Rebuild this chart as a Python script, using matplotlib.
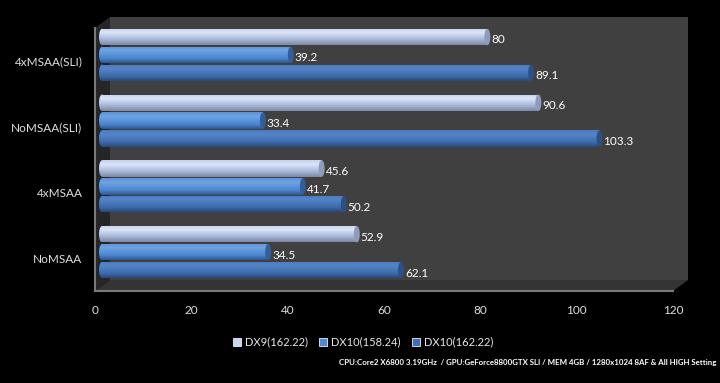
import numpy as np
import matplotlib
matplotlib.use("Agg")
import matplotlib.pyplot as plt
from matplotlib.patches import Polygon, Rectangle, Ellipse
from matplotlib.colors import LinearSegmentedColormap
from matplotlib.lines import Line2D
import matplotlib.transforms as mtrans

plt.rcParams['font.family'] = ['Lato', 'DejaVu Sans']

# data
categories = ["NoMSAA", "4xMSAA", "NoMSAA(SLI)", "4xMSAA(SLI)"]
series_names = ["DX9(162.22)", "DX10(158.24)", "DX10(162.22)"]
dx9_16222 = [52.9, 45.6, 90.6, 80]
dx10_15824 = [34.5, 41.7, 33.4, 39.2]
dx10_16222 = [62.1, 50.2, 103.3, 89.1]
xticks = [0, 20, 40, 60, 80, 100, 120]
footnote = "CPU:Core2 X6800 3.19GHz  / GPU:GeForce8800GTX SLI / MEM 4GB / 1280x1024 8AF & All HIGH Setting"

# gradient colours, bottom -> top
grads = [
    ["#7c89a6", "#9eacc9", "#bccbea", "#dde6f6", "#c4d1ee"],
    ["#2c5690", "#4a82c8", "#5a94da", "#6ea4e2", "#5c92d6"],
    ["#28487a", "#3c68a6", "#4778bc", "#5585c8", "#4a7abc"],
]
caps = ["#8e9cbc", "#2f5f9c", "#2b5088"]
legend_cols = ["#c9d5ef", "#4d89d2", "#3f6fb2"]

W, H = 720, 383
fig = plt.figure(figsize=(W / 100, H / 100), dpi=100, facecolor="black")

# background "3D" box in pixel coords
bg = fig.add_axes([0, 0, 1, 1])
bg.set_xlim(0, W)
bg.set_ylim(H, 0)
bg.axis("off")
bg.set_facecolor("black")
L, R, T, B = 95, 673, 28, 291
dx, dy = 15, 11
bg.add_patch(Polygon([(L + dx, T - dy), (R + dx, T - dy), (R + dx, B - dy), (L + dx, B - dy)],
                     closed=True, facecolor="#404040", edgecolor="none"))
bg.add_patch(Polygon([(L, T), (L + dx, T - dy), (L + dx, B - dy), (L, B)],
                     closed=True, facecolor="#262626", edgecolor="none"))
bg.add_patch(Polygon([(L, B), (L + dx, B - dy), (R + dx, B - dy), (R, B)],
                     closed=True, facecolor="#343434", edgecolor="none"))
bg.plot([L, L], [T, B], color="#7a7a7a", lw=1.5)
bg.plot([L, R], [B, B], color="#7a7a7a", lw=1.5)

ax = fig.add_axes([L / W, 1 - B / H, (R - L) / W, (B - T) / H])
ax.patch.set_alpha(0)
for s in ax.spines.values():
    s.set_visible(False)

ypos = np.arange(len(categories))
step = 0.272
bh = 0.25
series = [dx9_16222, dx10_15824, dx10_16222]
offsets = [step, 0, -step]

bar_tr = mtrans.offset_copy(ax.transData, fig=fig, x=7, y=6, units="dots")
lab_tr = mtrans.offset_copy(ax.transData, fig=fig, x=11, y=3, units="dots")
cap_w = 6 / ((R - L) / 120)
grad = np.linspace(0, 1, 64).reshape(-1, 1)

for vals, off, g, cc in zip(series, offsets, grads, caps):
    cmap = LinearSegmentedColormap.from_list("g", g)
    for y, v in zip(ypos, vals):
        yc = y + off
        y0, y1 = yc - bh / 2, yc + bh / 2
        rect = Rectangle((0, y0), v, bh, transform=bar_tr,
                         facecolor="none", edgecolor="none")
        left = Ellipse((0, yc), cap_w, bh, transform=bar_tr,
                       facecolor="none", edgecolor="none")
        ax.add_patch(rect)
        ax.add_patch(left)
        im = ax.imshow(grad, cmap=cmap, origin="lower", aspect="auto",
                       extent=[0, v, y0, y1], transform=bar_tr,
                       interpolation="bilinear")
        im.set_clip_path(rect)
        im2 = ax.imshow(grad, cmap=cmap, origin="lower", aspect="auto",
                        extent=[-cap_w, cap_w, y0, y1], transform=bar_tr,
                        interpolation="bilinear")
        im2.set_clip_path(left)
        ax.add_patch(Ellipse((v, yc), cap_w, bh, transform=bar_tr,
                             facecolor=cc, edgecolor="none"))
        ax.text(v, yc, f"{v:g}", transform=lab_tr, color="white",
                fontsize=8.5, va="center", ha="left")

ax.set_xlim(0, 120)
ax.set_ylim(-0.5, len(categories) - 0.5)
ax.set_xticks(xticks)
ax.set_xticklabels([str(t) for t in xticks])
ax.set_yticks(ypos)
ax.set_yticklabels(categories)
ax.tick_params(colors="#e0e0e0", length=0, labelsize=8.5)
ax.tick_params(axis="x", pad=10)
ax.tick_params(axis="y", pad=9)

handles = [Line2D([], [], marker="s", linestyle="none", markersize=6,
                  markerfacecolor=c, markeredgecolor="#e8eef8", markeredgewidth=0.6)
           for c in legend_cols]
leg = fig.legend(handles, series_names, loc="center", bbox_to_anchor=(0.504, 1 - 342 / H),
                 ncol=3, frameon=False, fontsize=8, handletextpad=0.3,
                 columnspacing=1.0, handlelength=0.8)
for t in leg.get_texts():
    t.set_color("#e8e8e8")

fig.text(716 / W, 1 - 362 / H, footnote, ha="right", va="center", color="white",
         fontsize=5.7, fontweight="bold", family=["Liberation Sans Narrow", "Lato"])

fig.savefig("out.png", dpi=100, facecolor="black")
